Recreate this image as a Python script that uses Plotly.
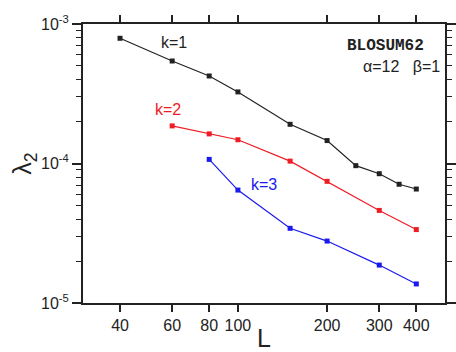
import plotly.graph_objects as go
import numpy as np

L1 = [40, 60, 80, 100, 150, 200, 250, 300, 350, 400]
k1 = [7.9e-4, 5.43e-4, 4.24e-4, 3.26e-4, 1.91e-4, 1.46e-4, 9.65e-5, 8.45e-5, 7.1e-5, 6.56e-5]
L2 = [60, 80, 100, 150, 200, 300, 400]
k2 = [1.86e-4, 1.63e-4, 1.48e-4, 1.04e-4, 7.45e-5, 4.61e-5, 3.36e-5]
L3 = [80, 100, 150, 200, 300, 400]
k3 = [1.07e-4, 6.45e-5, 3.43e-5, 2.78e-5, 1.87e-5, 1.37e-5]

xticks = [40, 60, 80, 100, 200, 300, 400]
yticks = [1e-5, 1e-4, 1e-3]
yticktext = ["10<sup>-5</sup>", "10<sup>-4</sup>", "10<sup>-3</sup>"]

font = "Liberation Sans, Arial, Helvetica, sans-serif"

fig = go.Figure()
for xs, ys, c in [(L1, k1, "#222222"), (L2, k2, "#ee1c25"), (L3, k3, "#1a1aee")]:
    fig.add_trace(go.Scatter(x=xs, y=ys, mode="lines+markers",
                             line=dict(color=c, width=1.2),
                             marker=dict(symbol="square", size=5, color=c),
                             showlegend=False))

annots = [
    dict(x=np.log10(61), y=np.log10(7.43e-4), text="k=1", color="#222222"),
    dict(x=np.log10(58), y=np.log10(2.42e-4), text="k=2", color="#ee1c25"),
    dict(x=np.log10(122), y=np.log10(7.1e-5), text="k=3", color="#1a1aee"),
]
for a in annots:
    fig.add_annotation(x=a["x"], y=a["y"], xref="x", yref="y", text=a["text"],
                       showarrow=False, xanchor="center", yanchor="middle",
                       font=dict(family=font, size=16, color=a["color"]))

fig.add_annotation(x=(385 - 83) / 362, y=1 - (46 - 24) / 279, xref="paper", yref="paper",
                   text="<b>BLOSUM62</b>",
                   showarrow=False, xanchor="center", yanchor="middle",
                   font=dict(family="Liberation Mono, Courier New, monospace", size=16, color="#222"))
fig.add_annotation(x=(442 - 83) / 362, y=1 - (66 - 24) / 279, xref="paper", yref="paper",
                   text="α=12   β=1",
                   showarrow=False, xanchor="right", yanchor="middle",
                   font=dict(family=font, size=16, color="#222"))

fig.update_xaxes(type="log", range=[np.log10(30), np.log10(500)], automargin=False,
                 tickvals=xticks, ticktext=[str(v) for v in xticks],
                 ticks="outside", ticklen=7, tickwidth=1.5, tickcolor="#222",
                 showline=True, linewidth=2, linecolor="#222", mirror="ticks",
                 showgrid=False, zeroline=False,
                 tickfont=dict(family=font, size=16, color="#222"),
                 title=dict(text="L", font=dict(family=font, size=25, color="#222"), standoff=6))
fig.update_yaxes(type="log", range=[-5, -3], automargin=False,
                 tickvals=yticks, ticktext=yticktext,
                 ticks="outside", ticklen=9, tickwidth=1.5, tickcolor="#222",
                 minor=dict(ticks="outside", ticklen=5, tickwidth=1, tickcolor="#222", dtick="D1", showgrid=False),
                 showline=True, linewidth=2, linecolor="#222", mirror="ticks",
                 showgrid=False, zeroline=False,
                 tickfont=dict(family=font, size=16, color="#222"),
                 title=dict(text="λ<sub>2</sub>", font=dict(family=font, size=25, color="#222"), standoff=2))

fig.update_layout(width=456, height=352, margin=dict(l=83, r=11, t=24, b=49),
                  plot_bgcolor="white", paper_bgcolor="white")

fig.write_html("out.html")
